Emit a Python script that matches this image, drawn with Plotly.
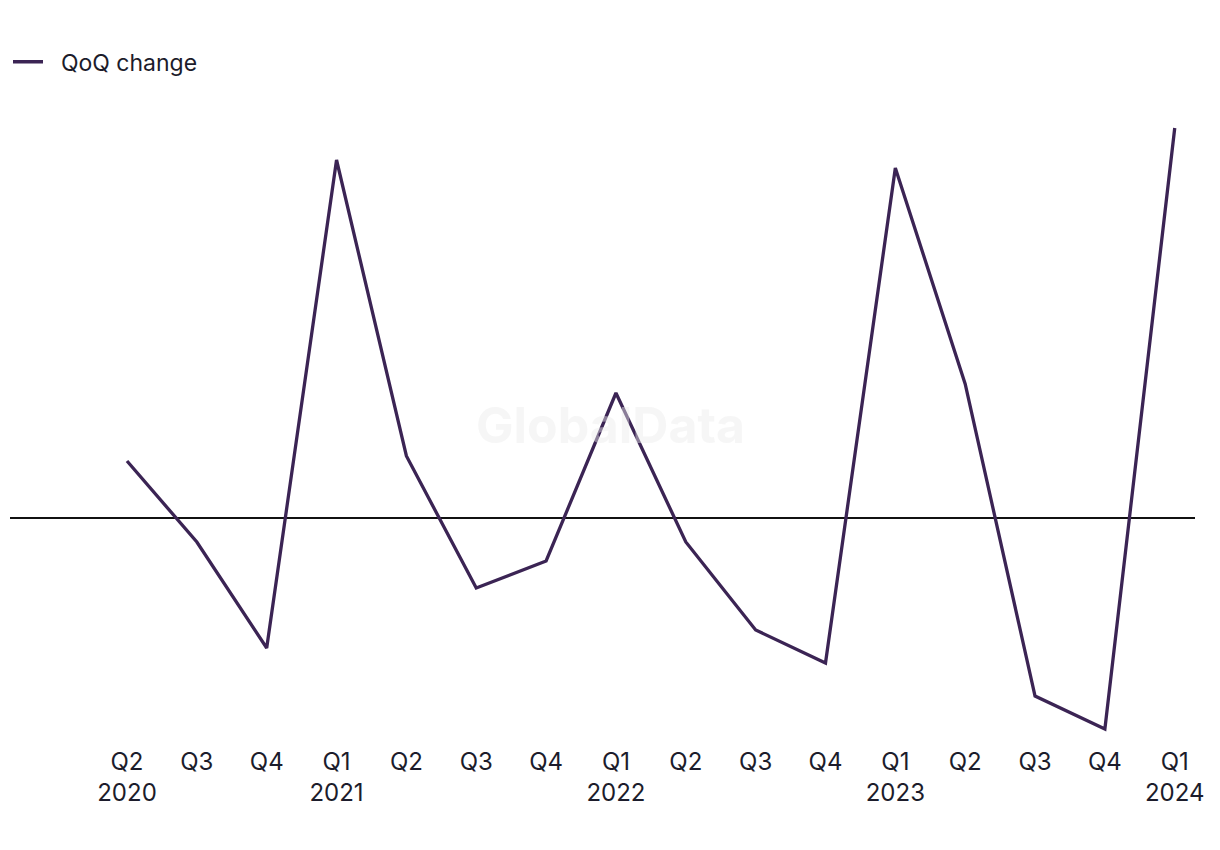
import plotly.graph_objects as go

quarters = ["Q2<br>2020", "Q3", "Q4", "Q1<br>2021", "Q2", "Q3", "Q4", "Q1<br>2022",
            "Q2", "Q3", "Q4", "Q1<br>2023", "Q2", "Q3", "Q4", "Q1<br>2024"]
qoq_change = [5.7, -2.4, -13.0, 35.8, 6.2, -7.0, -4.3, 12.5,
              -2.4, -11.2, -14.5, 35.0, 13.4, -17.8, -21.1, 39.0]

xs = list(range(len(quarters)))

fig = go.Figure()
fig.add_trace(go.Scatter(
    x=xs, y=qoq_change, mode="lines", name="\u00a0\u00a0QoQ change",
    line=dict(color="#3b2454", width=3.3),
))

fig.add_annotation(
    text="<b>GlobalData</b>", x=0.5, y=0.5, xref="paper", yref="paper",
    xshift=8, yshift=-2,
    showarrow=False, font=dict(size=50, color="rgba(235,235,235,0.45)", family="Inter"),
)

fig.update_layout(
    width=1220, height=850,
    paper_bgcolor="white", plot_bgcolor="white",
    margin=dict(l=2, r=33, t=92, b=113),
    font=dict(family="Inter", color="#1c1c2b", size=24),
    showlegend=True,
    legend=dict(x=0, y=0.962, xref="container", yref="container", yanchor="top",
                xanchor="left", orientation="h", font=dict(size=23),
                bgcolor="rgba(0,0,0,0)", itemwidth=30),
    xaxis=dict(
        tickmode="array", tickvals=xs, ticktext=quarters,
        range=[-1.675, 15.29], showgrid=False, zeroline=False,
        showline=False, ticks="", tickfont=dict(size=24),
    ),
    yaxis=dict(
        range=[-22.7, 41.8], showgrid=False, zeroline=True,
        zerolinecolor="#111111", zerolinewidth=1.5, showticklabels=False,
        showline=False, ticks="",
    ),
)

fig.write_html("out.html")
